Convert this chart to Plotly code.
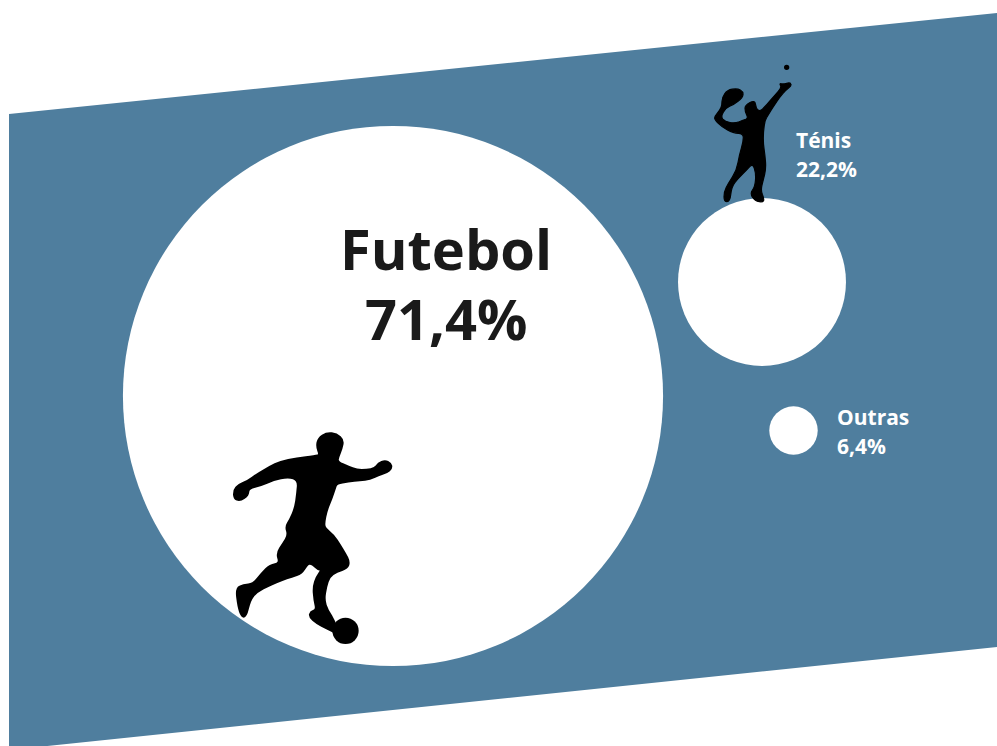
import plotly.graph_objects as go

categories = ["Futebol", "Ténis", "Outras"]
values = [71.4, 22.2, 6.4]
bubble_x = [393, 762, 793.5]
bubble_y = [396, 282, 430.5]

BLUE = "#4f7e9e"
W, H = 997, 746

band = [(9, 114), (997, 13), (997, 647), (9, 750)]

player = [(320,38),(350,42),(370,60),(365,85),(355,110),(352,125),(385,140),(410,150),(440,150),(465,145),
 (475,130),(495,122),(512,130),(515,145),(500,158),(475,165),(450,178),(420,180),(385,185),(350,190),(345,205),
 (335,235),(320,270),(312,310),(315,325),(340,345),(360,375),(375,400),(388,425),(382,445),(350,455),(328,470),
 (318,500),(312,540),(322,570),(345,605),(350,640),(320,625),(290,610),(268,590),(272,575),(290,570),(283,540),
 (280,500),(290,470),(308,445),(298,452),(275,430),(262,432),(245,460),(215,470),(185,480),(150,495),(110,515),
 (90,540),(78,590),(65,590),(55,560),(48,505),(70,495),(100,492),(125,460),(150,435),(180,430),(170,400),(190,370),
 (205,345),(197,320),(210,300),(225,265),(232,220),(235,180),(205,170),(160,180),(125,195),(85,205),(85,225),
 (60,243),(42,235),(42,210),(55,195),(80,185),(115,160),(150,140),(180,125),(230,115),(285,108),(300,105),(290,80),(295,55)]

server = [(135,150),(165,135),(168,160),(180,170),(200,150),(225,120),(245,98),(238,85),(250,88),(270,82),(275,92),
 (258,105),(240,125),(220,155),(205,180),(195,195),(190,230),(190,270),(195,300),(198,340),(190,375),(182,405),
 (192,430),(190,442),(165,438),(150,415),(165,395),(168,355),(158,325),(140,345),(115,370),(95,395),(90,440),
 (72,440),(72,410),(85,385),(110,345),(118,300),(130,260),(130,235),(100,235),(65,215),(45,195),(43,185),(60,165),
 (66,150),(66,128),(82,105),(112,100),(130,110),(128,128),(100,150),(78,158),(62,185),(75,200),(105,205),(130,195),
 (145,190),(135,170)]


def smooth(points, ox, oy, scale=1 / 3):
    p = [(ox + a * scale, oy + b * scale) for a, b in points]
    n = len(p)
    mid = lambda a, b: ((a[0] + b[0]) / 2, (a[1] + b[1]) / 2)
    s = mid(p[-1], p[0])
    d = f"M{s[0]:.1f},{s[1]:.1f}"
    for i in range(n):
        m = mid(p[i], p[(i + 1) % n])
        d += f" Q{p[i][0]:.1f},{p[i][1]:.1f} {m[0]:.1f},{m[1]:.1f}"
    return d + " Z"


def pct(v):
    return f"{v:.1f}%".replace(".", ",")


fig = go.Figure(go.Scatter(
    x=bubble_x, y=bubble_y, mode="markers", hoverinfo="skip",
    marker=dict(size=values, sizemode="diameter", sizeref=1 / 7.565, color="white", opacity=1,
                line=dict(width=0)),
))

shapes = [
    dict(type="path", layer="below", xref="x", yref="y", fillcolor=BLUE, line_width=0,
         path="M" + " L".join(f"{a},{b}" for a, b in band) + " Z"),
    dict(type="path", layer="above", xref="x", yref="y", fillcolor="black", line=dict(color="black", width=2),
         path=smooth(player, 220, 420)),
    dict(type="circle", layer="above", xref="x", yref="y", fillcolor="black", line_width=0,
         x0=220 + 337 / 3, x1=220 + 416 / 3, y0=420 + 593 / 3, y1=420 + 672 / 3),
    dict(type="path", layer="above", xref="x", yref="y", fillcolor="black", line=dict(color="black", width=1.2),
         path=smooth(server, 700, 55)),
    dict(type="circle", layer="above", xref="x", yref="y", fillcolor="black", line_width=0,
         x0=700 + 252 / 3, x1=700 + 268 / 3, y0=55 + 29 / 3, y1=55 + 45 / 3),
]

FONT = "Open Sans"
labels = [
    (446, 248, categories[0], 56, "#1a1a1a", "center"),
    (446, 318, pct(values[0]), 56, "#1a1a1a", "center"),
    (794, 140, categories[1], 21, "white", "left"),
    (794, 169, pct(values[1]), 21, "white", "left"),
    (835, 417, categories[2], 21, "white", "left"),
    (835, 446, pct(values[2]), 21, "white", "left"),
]
annotations = [
    dict(x=x, y=y, xref="x", yref="y", text=f"<b>{t}</b>", showarrow=False, xanchor=a, yanchor="middle",
         font=dict(family=FONT, size=s, color=c))
    for x, y, t, s, c, a in labels
]

fig.update_layout(
    width=W, height=H, margin=dict(l=0, r=0, t=0, b=0), showlegend=False,
    paper_bgcolor="white", plot_bgcolor="white",
    xaxis=dict(range=[0, W], visible=False, fixedrange=True),
    yaxis=dict(range=[H, 0], visible=False, fixedrange=True),
    shapes=shapes, annotations=annotations,
)
fig.write_html("out.html", config={"displayModeBar": False},
               post_script="document.body.style.margin='0';document.body.style.overflow='hidden';")
